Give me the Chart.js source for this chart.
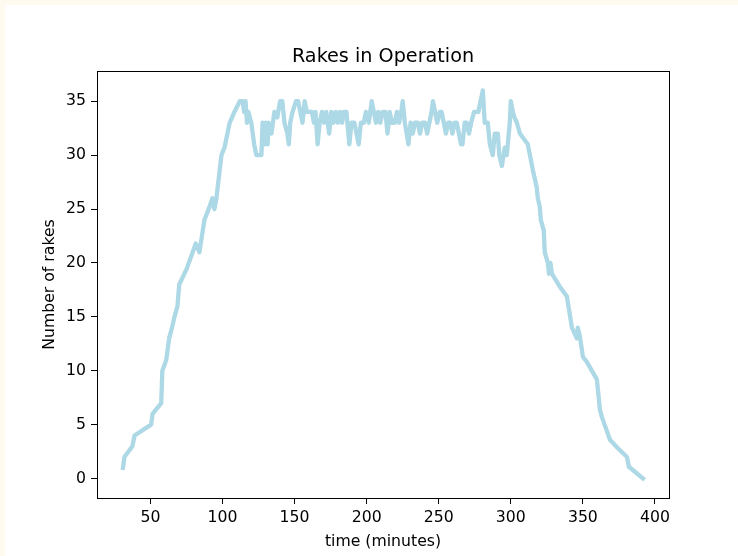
<!DOCTYPE html>
<html>
<head>
<meta charset="utf-8">
<script src="https://cdn.jsdelivr.net/npm/chart.js@4.4.1/dist/chart.umd.min.js"></script>
<style>
  html, body { margin: 0; padding: 0; background: #fffaf0; }
  #wrap { position: absolute; left: 5px; top: 5px; width: 733px; height: 551px; background: #fff; }
</style>
</head>
<body>
<div id="wrap"><canvas id="chartRakes" width="733" height="551"></canvas></div>
<script>
// time (minutes) and rakes in operation
const times = [
  31, 32, 37.5, 39, 50.5, 51.5, 57.5, 58.3, 61, 63, 65, 66.7, 68.8, 70, 75,
  81.5, 84, 87.5, 91, 93, 94.4, 95.8, 99.3, 101.4, 105, 108.3, 112, 114, 115, 116,
  117, 118, 120, 122, 123.5, 127, 127.8, 129, 130, 131.3, 132, 134, 136, 138, 140,
  141.5, 143, 145, 146, 147, 148.6, 151, 152.5, 154, 155.5, 157, 158.5, 160.5, 162, 163.5,
  164.5, 166, 167.4, 169, 170.5, 172, 174, 175.5, 177, 178.5, 180, 181.5, 183, 184, 186,
  188, 189.5, 191.5, 193, 194.5, 196, 198, 199.5, 201.5, 203.5, 205, 206.5, 208, 209.5, 211,
  213, 214.5, 216, 217.5, 219.5, 221, 222.5, 224, 225, 226.5, 227.8, 229, 230.5, 232, 233.5,
  235.5, 237, 238.5, 240.5, 242, 243.5, 245, 246, 247.5, 249, 250.7, 252, 253.5, 255, 256.5,
  258, 259.5, 261, 262.5, 264, 265.5, 266.5, 268, 269.5, 271, 272.5, 274.5, 277.5, 279, 280.6,
  281.9, 284, 285.5, 287.5, 288.9, 291, 292, 293.8, 295.8, 297.2, 299.3, 300, 301.4, 302.5, 304.2,
  306.3, 311.8, 315.3, 318, 318.75, 320.1, 320.8, 322.9, 323.5, 325.7, 326.5, 327.5, 328.5, 334, 338.9,
  342.4, 345.8, 346.5, 347.9, 350, 352.8, 359.7, 361.8, 363.2, 368.8, 373.6, 380.6, 381.9, 391.7
];
const rakes = [
  1, 2, 3, 4, 5, 6, 7, 10, 11, 13, 14, 15, 16, 18, 19.4,
  21.8, 21, 24, 25.2, 26, 25, 26, 30, 30.7, 33, 34, 35, 35, 34, 35,
  33, 34, 33, 31, 30, 30, 33, 31, 33, 31, 33, 32, 34, 33.5, 35,
  35, 33, 32, 31, 33, 34, 35, 35, 34, 33, 35, 34, 34, 34, 33,
  34, 31, 33, 34, 33, 34, 32, 34, 33, 34, 33, 34, 33, 34, 34,
  31, 33, 33, 32, 31, 33, 33, 34, 33, 35, 34, 33, 34, 33, 34,
  34, 32, 34, 33, 33, 34, 33, 34, 35, 33, 32, 31, 33, 32, 33,
  33, 32, 33, 33, 32, 33, 34, 35, 34, 33, 34, 34, 33, 32, 33,
  33, 32, 33, 33, 32, 31, 31, 33, 33, 32, 33, 34, 34, 35, 36,
  33, 33, 31, 30, 32, 32, 30, 29, 30.7, 30, 33, 35, 34, 33.5, 33,
  32, 31, 28.6, 27, 26, 25.2, 24, 23, 21, 20, 19, 20, 19, 17.8, 16.9,
  14, 13, 14, 13.2, 11.3, 10.8, 9.2, 6.4, 5.7, 3.6, 2.9, 2, 1.1, 0
];
const xTicks = [50, 100, 150, 200, 250, 300, 350, 400];
const yTicks = [0, 5, 10, 15, 20, 25, 30, 35];

const titleText = "Rakes in Operation";
const xLabel = "time (minutes)";
const yLabel = "Number of rakes";

// matplotlib-style 5% margins
const tMin = Math.min(...times), tMax = Math.max(...times);
const rMin = Math.min(...rakes), rMax = Math.max(...rakes);
const tPad = (tMax - tMin) * 0.05;
const rPad = (rMax - rMin) * 0.05;

const FONT = "'DejaVu Sans', sans-serif";
Chart.defaults.font.family = FONT;
Chart.defaults.color = "#000";

// box around the plot + title centred over the axes
const frameAndTitle = {
  id: "frameAndTitle",
  afterDraw(chart) {
    const { ctx, chartArea: a } = chart;
    ctx.save();
    ctx.strokeStyle = "#000";
    ctx.lineWidth = 1;
    ctx.strokeRect(Math.round(a.left) + 0.5, Math.round(a.top) + 0.5,
      Math.round(a.right - a.left), Math.round(a.bottom - a.top));
    ctx.fillStyle = "#000";
    ctx.font = "19.2px " + FONT;
    ctx.textAlign = "center";
    ctx.textBaseline = "middle";
    ctx.fillText(titleText, (a.left + a.right) / 2, 52);
    ctx.restore();
  }
};

new Chart(document.getElementById("chartRakes"), {
  type: "line",
  data: {
    datasets: [{
      data: times.map((t, i) => ({ x: t, y: rakes[i] })),
      borderColor: "#add8e6",
      borderWidth: 4.3,
      borderJoinStyle: "round",
      borderCapStyle: "square",
      pointRadius: 0,
      tension: 0,
      fill: false
    }]
  },
  options: {
    responsive: false,
    animation: false,
    devicePixelRatio: 1,
    layout: { padding: { left: 0, right: 69, top: 66, bottom: 0 } },
    plugins: { legend: { display: false }, tooltip: { enabled: false } },
    scales: {
      x: {
        type: "linear",
        min: tMin - tPad,
        max: tMax + tPad,
        afterBuildTicks: (s) => { s.ticks = xTicks.map(v => ({ value: v })); },
        afterFit: (s) => { s.height = 58; },
        grid: { drawOnChartArea: false, drawTicks: true, tickLength: 6, color: "#000" },
        border: { display: false },
        ticks: { font: { size: 15.7 }, padding: 5, maxRotation: 0, autoSkip: false },
        title: { display: true, text: xLabel, font: { size: 15.7 }, padding: { top: 0, bottom: 4.6 } }
      },
      y: {
        min: rMin - rPad,
        max: rMax + rPad,
        afterBuildTicks: (s) => { s.ticks = yTicks.map(v => ({ value: v })); },
        afterFit: (s) => { s.width = 92; },
        grid: { drawOnChartArea: false, drawTicks: true, tickLength: 6, color: "#000" },
        border: { display: false },
        ticks: { font: { size: 15.7 }, padding: 5, autoSkip: false },
        title: { display: true, text: yLabel, font: { size: 15.7 }, padding: { top: 35.6, bottom: 0 } }
      }
    }
  },
  plugins: [frameAndTitle]
});
</script>
</body>
</html>
